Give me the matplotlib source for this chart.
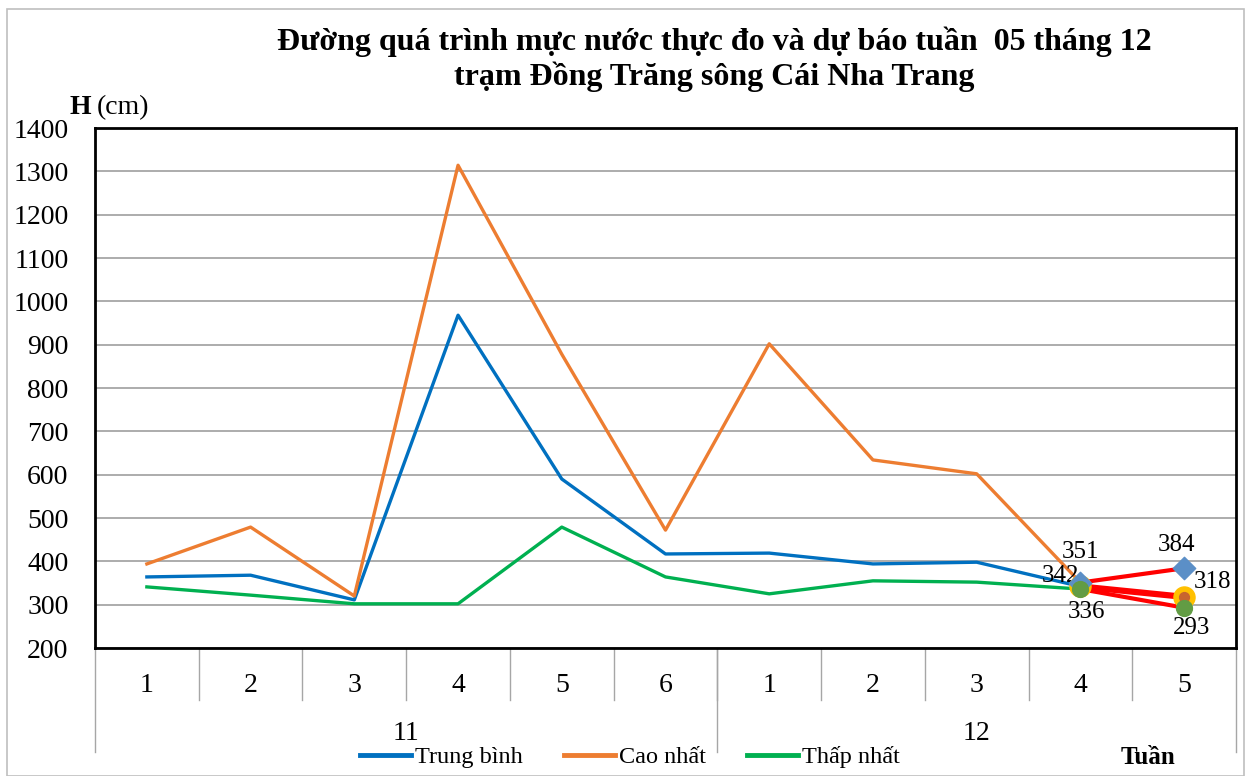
import matplotlib
matplotlib.use('Agg')
import matplotlib.pyplot as plt
from matplotlib.lines import Line2D
import matplotlib.transforms as mtransforms

plt.rcParams['font.family'] = ['Liberation Serif', 'DejaVu Serif']

weeks = ['1', '2', '3', '4', '5', '6', '1', '2', '3', '4', '5']
months = ['11', '12']
month_span = [(0, 5), (6, 10)]

trung_binh = [364, 368, 311, 968, 590, 417, 419, 394, 398, 342]
cao_nhat = [394, 479, 320, 1314, 878, 472, 902, 634, 602, 351]
thap_nhat = [341, 322, 302, 302, 479, 364, 325, 355, 352, 336]

# forecast for week 5 of month 12
fc_tb = 318
fc_cao = 384
fc_thap = 293

c_blue = '#0070C0'
c_orange = '#ED7D31'
c_green = '#00B050'

fig = plt.figure(figsize=(12.55, 7.76), dpi=100)
W, H = 1255, 776
ax = fig.add_axes([95 / W, 1 - 648 / H, (1236 - 95) / W, (648 - 128) / H])

x = list(range(len(trung_binh)))
ax.plot(x, trung_binh, color=c_blue, lw=2.4, zorder=3)
ax.plot(x, cao_nhat, color=c_orange, lw=2.4, zorder=3)
ax.plot(x, thap_nhat, color=c_green, lw=2.4, zorder=3)

# forecast lines
i0, i1 = len(trung_binh) - 1, len(trung_binh)
ax.plot([i0, i1], [cao_nhat[-1], fc_cao], color='red', lw=3, zorder=4)
ax.plot([i0, i1], [trung_binh[-1], fc_tb], color='red', lw=4.5, zorder=4)
ax.plot([i0, i1], [thap_nhat[-1], fc_thap], color='red', lw=3, zorder=4)

# markers
ax.scatter([i0, i1], [trung_binh[-1], fc_tb], s=230, color='#FFC000', zorder=5)
ax.scatter([i1], [fc_tb], s=50, color='#C8652E', zorder=6)
ax.scatter([i0, i1], [cao_nhat[-1], fc_cao], marker='D', s=130, color='#5B8FC7', zorder=6)
ax.scatter([i0, i1], [thap_nhat[-1], fc_thap], s=130, color='#629C44', zorder=7)

fs = 18
ax.text(i0, 421, str(cao_nhat[-1]), ha='center', va='center', fontsize=fs)
ax.text(i0 - 0.01, 366, str(trung_binh[-1]), ha='right', va='center', fontsize=fs)
ax.text(i0 + 0.06, 283, str(thap_nhat[-1]), ha='center', va='center', fontsize=fs)
ax.text(i1 - 0.07, 438, str(fc_cao), ha='center', va='center', fontsize=fs)
ax.text(i1 + 0.27, 352, str(fc_tb), ha='center', va='center', fontsize=fs)
ax.text(i1 + 0.075, 246, str(fc_thap), ha='center', va='center', fontsize=fs)

ax.set_xlim(-0.5, len(weeks) - 0.5)
ax.set_ylim(200, 1400)
ax.set_yticks(range(200, 1401, 100))
ax.tick_params(axis='y', labelsize=20, length=0, pad=19)
ax.set_xticks([])
ax.grid(axis='y', color='#A6A6A6', lw=1.3)
ax.set_axisbelow(True)
for s in ax.spines.values():
    s.set_linewidth(2)
    s.set_color('black')

# two-level category axis
trans = mtransforms.blended_transform_factory(ax.transData, ax.transAxes)
for i, w in enumerate(weeks):
    ax.text(i, -0.073, w, transform=trans, ha='center', va='center', fontsize=20)
for i in range(len(weeks) - 1):
    ax.plot([i + 0.5, i + 0.5], [0, -0.1], transform=trans, color='#A6A6A6', lw=1, clip_on=False)
for b in [-0.5, 5.5, len(weeks) - 0.5]:
    ax.plot([b, b], [0, -0.2], transform=trans, color='#A6A6A6', lw=1, clip_on=False)
for m, (a, b) in zip(months, month_span):
    ax.text((a + b) / 2, -0.165, m, transform=trans, ha='center', va='center', fontsize=20)

fig.text(714 / W, 1 - 42 / H, 'Đường quá trình mực nước thực đo và dự báo tuần  05 tháng 12',
         ha='center', va='center', fontsize=23, fontweight='bold')
fig.text(714 / W, 1 - 77 / H, 'trạm Đồng Trăng sông Cái Nha Trang',
         ha='center', va='center', fontsize=23, fontweight='bold')

fig.text(69 / W, 1 - 108 / H, 'H', ha='left', va='center', fontsize=20, fontweight='bold')
fig.text(97 / W, 1 - 108 / H, '(cm)', ha='left', va='center', fontsize=20)
fig.text(1148 / W, 1 - 757 / H, 'Tuần', ha='center', va='center', fontsize=18, fontweight='bold')

handles = [Line2D([], [], color=c_blue, lw=3.5),
           Line2D([], [], color=c_orange, lw=3.5),
           Line2D([], [], color=c_green, lw=3.5)]
fig.legend(handles, ['Trung bình', 'Cao nhất', 'Thấp nhất'], loc='center',
           bbox_to_anchor=(630 / W, 1 - 757 / H), ncol=3, frameon=False,
           fontsize=17.5, handlelength=2.1, handletextpad=0.15, columnspacing=1.7)

# outer chart border
fig.patches.append(plt.Rectangle((7 / W, 1 - 776 / H), (1244 - 7) / W, (776 - 9) / H,
                                 transform=fig.transFigure, fill=False,
                                 edgecolor='#BFBFBF', lw=1.2))

fig.savefig('out.png', dpi=100)
